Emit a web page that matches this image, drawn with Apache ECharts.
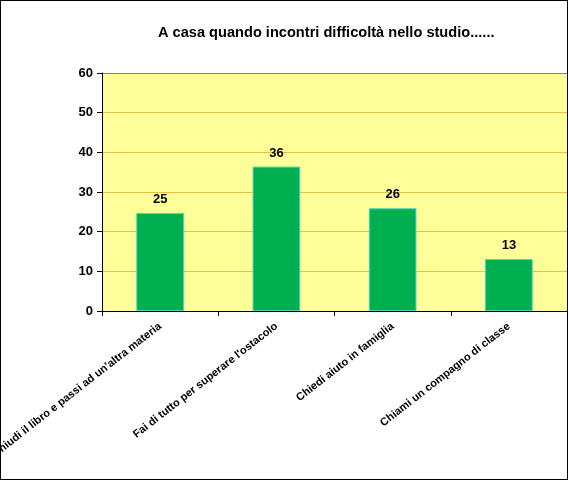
<!DOCTYPE html>
<html><head><meta charset="utf-8">
<script src="https://cdn.jsdelivr.net/npm/echarts@6/dist/echarts.min.js"></script>
<style>html,body{margin:0;padding:0;background:#fff}#c{width:568px;height:480px;box-sizing:border-box;border:1px solid #000}</style>
</head><body><div id="c"></div>
<script>
const titleText = "A casa quando incontri difficoltà nello studio......";
const categories = ["Chiudi il libro e passi ad un'altra materia","Fai di tutto per superare l'ostacolo","Chiedi aiuto in famiglia","Chiami un compagno di classe"];
const values = [24.7, 36.4, 25.9, 13.1];
const yTicks = [0, 10, 20, 30, 40, 50, 60];

const chart = echarts.init(document.getElementById('c'), null, {renderer:'canvas'});
chart.setOption({
  backgroundColor: '#fff',
  animation: false,
  title: {text: titleText, left: 157, top: 24, padding: 0,
    textStyle: {fontFamily: 'Liberation Sans, Arial', fontSize: 14.6, fontWeight: 'bold', color: '#000'}},
  grid: {left: 101, top: 72, right: 0, bottom: 168, containLabel: false, outerBoundsMode: 'none',
    backgroundColor: '#FFFF99', show: true, borderWidth: 0},
  xAxis: {type: 'category', data: categories,
    axisLine: {lineStyle: {color: '#000', width: 1}},
    axisTick: {show: true, length: 5, lineStyle: {color: '#000'}},
    axisLabel: {rotate: 38, interval: 0, margin: 14, color: '#000',
      fontFamily: 'Liberation Sans, Arial', fontSize: 11, fontWeight: 'bold'}},
  yAxis: {type: 'value', min: yTicks[0], max: yTicks[yTicks.length-1], interval: 10,
    axisLine: {show: true, lineStyle: {color: '#000'}},
    axisTick: {show: true, length: 5, lineStyle: {color: '#000'}},
    axisLabel: {margin: 9, color: '#000', fontFamily: 'Liberation Sans, Arial', fontSize: 13, fontWeight: 'bold'},
    splitLine: {lineStyle: {color: ['#E8C040','#E8C040','#E8C040','#E8C040','#E8C040','#E8C040','#808080'], width: 1}}},
  series: [{type: 'bar', data: values, barWidth: '41%',
    itemStyle: {color: '#00B050', borderColor: '#4FD1C5', borderWidth: 1},
    label: {show: true, position: 'top', distance: 7, color: '#000',
      fontFamily: 'Liberation Sans, Arial', fontSize: 13, fontWeight: 'bold',
      formatter: p => Math.round(p.value)}}]
});
</script></body></html>
